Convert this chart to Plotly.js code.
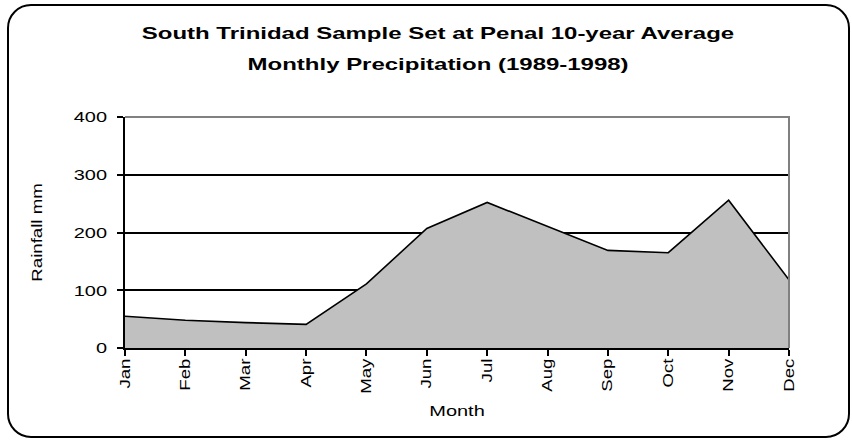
<!DOCTYPE html>
<html>
<head>
<meta charset="utf-8">
<script src="https://cdn.plot.ly/plotly-3.0.1.min.js"></script>
<style>
  html, body { margin: 0; padding: 0; background: #fff; }
  #wrap { position: relative; width: 852px; height: 441px; }
  #chart { position: absolute; left: 0; top: 0; width: 852px; height: 441px; }
  #frame { position: absolute; left: 7px; top: 4px; width: 839px; height: 430px;
           border: 2px solid #000; border-radius: 24px; pointer-events: none; }
</style>
</head>
<body>
<div id="wrap">
  <div id="chart"></div>
  <div id="frame"></div>
</div>
<script>
const months = ["Jan","Feb","Mar","Apr","May","Jun","Jul","Aug","Sep","Oct","Nov","Dec"];
const rainfall = [55, 48, 44, 41, 111, 207, 252, 211, 169, 165, 256, 118];
const yTicks = [0, 100, 200, 300, 400];
const titleLine1 = "South Trinidad Sample Set at Penal 10-year Average";
const titleLine2 = "Monthly Precipitation (1989-1998)";

const font = "Liberation Sans, Arial, sans-serif";
// the reference renders its Arial text horizontally widened
const STRETCH = 1.33;
const TITLE_STRETCH = 1.41;

const trace = {
  x: months,
  y: rainfall,
  type: "scatter",
  mode: "lines",
  fill: "tozeroy",
  fillcolor: "#C0C0C0",
  line: { color: "#000000", width: 1.6 },
  hoverinfo: "x+y"
};

const layout = {
  width: 852, height: 441,
  margin: { l: 125, r: 63, t: 117, b: 93 },
  paper_bgcolor: "rgba(0,0,0,0)",
  plot_bgcolor: "#ffffff",
  showlegend: false,
  title: {
    text: "<b>" + titleLine1 + "</b>",
    font: { family: font, size: 17, color: "#000" },
    x: 438 / 852, xanchor: "center",
    y: 1 - 33 / 441, yanchor: "middle"
  },
  annotations: [
    { text: "<b>" + titleLine2 + "</b>", xref: "paper", yref: "paper",
      x: (438 - 125) / 664, y: (348 - 64) / 231, xanchor: "center", yanchor: "middle",
      showarrow: false, font: { family: font, size: 17, color: "#000" } }
  ],
  xaxis: {
    type: "category",
    range: [0, months.length - 1],
    showline: true, linecolor: "#000", linewidth: 2,
    ticks: "outside", ticklen: 6, tickwidth: 2, tickcolor: "#000",
    tickangle: -90, ticklabelstandoff: -3,
    tickfont: { family: font, size: 14, color: "#000" },
    showgrid: false, zeroline: false,
    title: { text: "Month", font: { family: font, size: 15, color: "#000" }, standoff: 21 }
  },
  yaxis: {
    range: [0, 400],
    tickvals: yTicks,
    showline: true, linecolor: "#000", linewidth: 2,
    ticks: "outside", ticklen: 6, tickwidth: 2, tickcolor: "#000",
    ticklabelstandoff: 7,
    tickfont: { family: font, size: 15, color: "#000" },
    showgrid: true, gridcolor: "#000", gridwidth: 2,
    zeroline: false,
    title: { text: "Rainfall mm", font: { family: font, size: 14, color: "#000" }, standoff: 36 }
  },
  shapes: [
    { type: "path", xref: "paper", yref: "paper", path: "M0,1 L1,1 L1,0",
      line: { color: "#808080", width: 2 }, layer: "above" }
  ]
};

Plotly.newPlot("chart", [trace], layout, { displayModeBar: false, staticPlot: true }).then(gd => {
  gd.querySelectorAll("svg text").forEach(t => {
    if (!t.textContent.trim()) return;
    const isTitle = t.closest(".g-gtitle") || t.closest(".annotation");
    const k = isTitle ? TITLE_STRETCH : STRETCH;
    const len = t.getComputedTextLength();
    if (len > 0) {
      t.setAttribute("textLength", (len * k).toFixed(1));
      t.setAttribute("lengthAdjust", "spacingAndGlyphs");
    }
  });
});
</script>
</body>
</html>
